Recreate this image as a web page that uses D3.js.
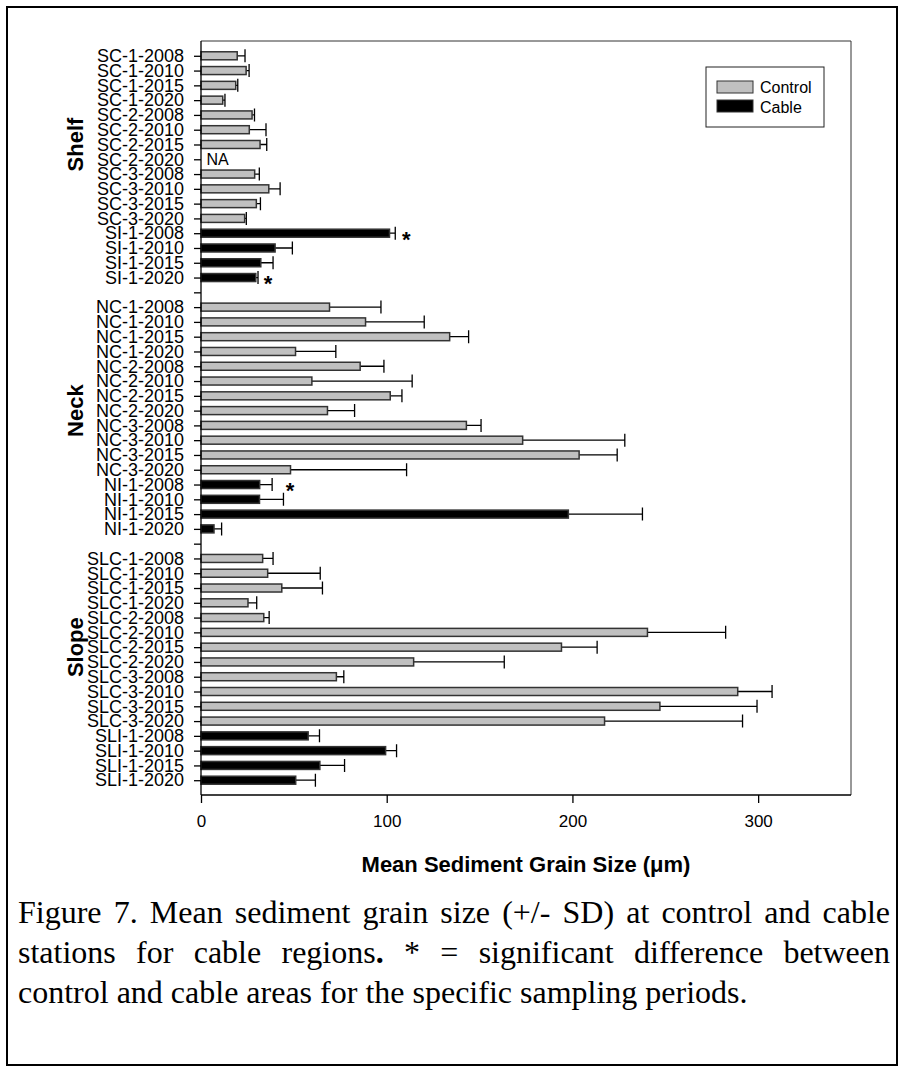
<!DOCTYPE html>
<html>
<meta charset="utf-8">
<style>
body { margin: 0; background: #fff; }
svg { display: block; }
.axis text { font: 17px "Liberation Sans", Arial, sans-serif; fill: #000; }
.y.axis text { font-size: 18px; }
.axis path, .axis line { fill: none; stroke: #000; stroke-width: 1.3; }
.bar { stroke: #333; stroke-width: 1.5; }
.bar.control { fill: #c0c0c0; }
.bar.cable { fill: #000; }
.err { stroke: #000; stroke-width: 1.3; fill: none; }
.frame { fill: none; stroke: #333; stroke-width: 1; }
.group { font: bold 22px "Liberation Sans", Arial, sans-serif; }
.title { font: bold 22px "Liberation Sans", Arial, sans-serif; }
.legend text { font: 16px "Liberation Sans", Arial, sans-serif; }
.caption { font: 32px "Liberation Serif", "Times New Roman", serif; }
</style>
<body>
<div id="chart"></div>

<script src="https://cdnjs.cloudflare.com/ajax/libs/d3/7.8.5/d3.min.js"></script>
<script>

// station labels, top to bottom ("gap-" keys are empty rows between regions)
var stations = [
  "SC-1-2008", "SC-1-2010", "SC-1-2015", "SC-1-2020",
  "SC-2-2008", "SC-2-2010", "SC-2-2015", "SC-2-2020",
  "SC-3-2008", "SC-3-2010", "SC-3-2015", "SC-3-2020",
  "SI-1-2008", "SI-1-2010", "SI-1-2015", "SI-1-2020",
  "gap-1",
  "NC-1-2008", "NC-1-2010", "NC-1-2015", "NC-1-2020",
  "NC-2-2008", "NC-2-2010", "NC-2-2015", "NC-2-2020",
  "NC-3-2008", "NC-3-2010", "NC-3-2015", "NC-3-2020",
  "NI-1-2008", "NI-1-2010", "NI-1-2015", "NI-1-2020",
  "gap-2",
  "SLC-1-2008", "SLC-1-2010", "SLC-1-2015", "SLC-1-2020",
  "SLC-2-2008", "SLC-2-2010", "SLC-2-2015", "SLC-2-2020",
  "SLC-3-2008", "SLC-3-2010", "SLC-3-2015", "SLC-3-2020",
  "SLI-1-2008", "SLI-1-2010", "SLI-1-2015", "SLI-1-2020"
];

// mean grain size (um), null = no data
var meanSize = [
  19.5, 24.3, 18.7, 11.7, 27.5, 26.0, 31.8, null,
  28.9, 36.5, 29.8, 23.5, 101.5, 39.9, 32.2, 29.5,
  null,
  69.2, 88.6, 133.9, 50.9, 85.7, 59.7, 101.9, 68.1,
  142.9, 173.2, 203.6, 48.2, 31.6, 31.5, 197.8, 7.0,
  null,
  33.2, 35.9, 43.5, 25.3, 33.8, 240.4, 194.1, 114.5,
  72.9, 289.0, 247.1, 217.3, 57.7, 99.4, 64.0, 51.0
];

// standard deviation
var sdSize = [
  4.2, 1.6, 1.1, 1.2, 1.3, 9.0, 3.6, null,
  2.5, 6.1, 2.2, 0.9, 3.1, 9.3, 6.6, 1.2,
  null,
  27.7, 31.6, 10.2, 21.7, 12.8, 54.0, 6.3, 14.6,
  7.9, 55.0, 20.5, 62.5, 6.7, 12.9, 39.9, 4.1,
  null,
  5.6, 28.3, 21.9, 4.7, 2.9, 42.1, 19.2, 48.8,
  4.0, 18.5, 52.3, 74.3, 6.1, 5.9, 13.3, 10.6
];

var seriesNames = ["Control", "Cable"];

var regions = ["Shelf", "Neck", "Slope"];
// row that each region label is centred on
var regionAnchor = ["SC-2-2015", "NC-2-2020", "SLC-2-2015"];

var naStations = ["SC-2-2020"];

// significance stars: station and x position (um)
var starStations = ["SI-1-2008", "SI-1-2020", "NI-1-2008"];
var starAt = [110.5, 36.1, 48];

var xTicks = [0, 100, 200, 300];
var xTitle = "Mean Sediment Grain Size (\u03bcm)";

var caption = [
  "Figure 7. Mean sediment grain size (+/- SD) at control and cable",
  "stations for cable regions**.** * = significant difference between",
  "control and cable areas for the specific sampling periods."
];

function isCable(name) { return /I-1-/.test(name); }

var width = 908, height = 1072;
var plot = {left: 201, right: 851, top: 41, bottom: 795};

var svg = d3.select("#chart").append("svg")
    .attr("width", width)
    .attr("height", height);

// outer page frame
svg.append("rect")
    .attr("x", 7).attr("y", 7)
    .attr("width", 890).attr("height", 1058)
    .attr("fill", "none")
    .attr("stroke", "#000")
    .attr("stroke-width", 2);

var x = d3.scaleLinear()
    .domain([0, 350])
    .range([plot.left, plot.right]);

var y = d3.scalePoint()
    .domain(stations)
    .range([plot.top, plot.bottom])
    .padding(1);

var data = stations.map(function(s, i) {
  return {name: s, mean: meanSize[i], sd: sdSize[i]};
}).filter(function(d) { return d.mean != null; });

// top and right frame lines of the plot
svg.append("path")
    .attr("class", "frame")
    .attr("d", "M" + plot.left + "," + plot.top + "H" + plot.right + "V" + plot.bottom);

var barH = 8;

svg.selectAll(".err")
    .data(data)
  .enter().append("path")
    .attr("class", "err")
    .attr("d", function(d) {
      var y0 = y(d.name), x1 = x(d.mean + d.sd);
      return "M" + x(d.mean) + "," + y0 + "H" + x1 +
             "M" + x1 + "," + (y0 - 6.5) + "V" + (y0 + 6.5);
    });

svg.selectAll(".bar")
    .data(data)
  .enter().append("rect")
    .attr("class", function(d) { return "bar " + (isCable(d.name) ? "cable" : "control"); })
    .attr("x", x(0))
    .attr("y", function(d) { return y(d.name) - barH / 2; })
    .attr("width", function(d) { return x(d.mean) - x(0); })
    .attr("height", barH);

svg.selectAll(".na")
    .data(naStations)
  .enter().append("text")
    .attr("class", "na")
    .attr("x", x(3))
    .attr("y", function(d) { return y(d); })
    .attr("dy", "0.36em")
    .style("font", "16px 'Liberation Sans', Arial, sans-serif")
    .text("NA");

svg.selectAll(".star")
    .data(starStations)
  .enter().append("text")
    .attr("class", "star")
    .attr("x", function(d, i) { return x(starAt[i]); })
    .attr("y", function(d) { return y(d); })
    .attr("dy", "0.62em")
    .attr("text-anchor", "middle")
    .style("font", "bold 22px 'Liberation Sans', Arial, sans-serif")
    .text("*");

var xAxis = d3.axisBottom(x)
    .tickValues(xTicks)
    .tickSize(8)
    .tickSizeOuter(0)
    .tickPadding(12);

var yAxis = d3.axisLeft(y)
    .tickSize(7)
    .tickSizeOuter(0)
    .tickPadding(10)
    .tickFormat(function(d) { return /^gap/.test(d) ? "" : d; });

svg.append("g")
    .attr("class", "x axis")
    .attr("transform", "translate(0," + plot.bottom + ")")
    .call(xAxis);

svg.append("g")
    .attr("class", "y axis")
    .attr("transform", "translate(" + plot.left + ",0)")
    .call(yAxis);

svg.selectAll(".axis .domain").attr("d", function() {
  return d3.select(this.parentNode).classed("x")
    ? "M" + plot.left + ",0H" + plot.right
    : "M0," + plot.top + "V" + plot.bottom;
});

svg.append("text")
    .attr("class", "title")
    .attr("x", (plot.left + plot.right) / 2)
    .attr("y", 872)
    .attr("text-anchor", "middle")
    .text(xTitle);

// region labels, rotated
svg.selectAll(".group")
    .data(regions)
  .enter().append("text")
    .attr("class", "group")
    .attr("text-anchor", "middle")
    .attr("transform", function(d, i) {
      return "translate(83," + y(regionAnchor[i]) + ") rotate(-90)";
    })
    .text(function(d) { return d; });

// legend
var legend = svg.append("g").attr("class", "legend");
legend.append("rect")
    .attr("x", 706).attr("y", 67)
    .attr("width", 118).attr("height", 60)
    .attr("fill", "#fff").attr("stroke", "#222").attr("stroke-width", 1);
seriesNames.forEach(function(s, i) {
  legend.append("rect")
      .attr("class", "bar " + (i ? "cable" : "control"))
      .attr("x", 717).attr("y", 81 + i * 19)
      .attr("width", 36).attr("height", 12)
      .style("stroke-width", 1);
  legend.append("text")
      .attr("x", 760).attr("y", 93 + i * 19.5)
      .text(s);
});

// caption, first two lines justified
var cap = svg.append("g").attr("class", "caption");
var capLeft = 18, capRight = 890;
caption.forEach(function(line, li) {
  var words = line.split(" ");
  var nodes = words.map(function(w) {
    var t = cap.append("text").attr("y", 923 + li * 40);
    w.split("**").forEach(function(seg, k) {
      if (seg) t.append("tspan").style("font-weight", k % 2 ? "bold" : null).text(seg);
    });
    return t;
  });
  var widths = nodes.map(function(t) { return t.node().getComputedTextLength(); });
  var total = d3.sum(widths);
  var gap = li < caption.length - 1
    ? (capRight - capLeft - total) / (words.length - 1)
    : 8;
  var cx = capLeft;
  nodes.forEach(function(t, i) {
    t.attr("x", cx);
    cx += widths[i] + gap;
  });
});

</script>
</body>
</html>
